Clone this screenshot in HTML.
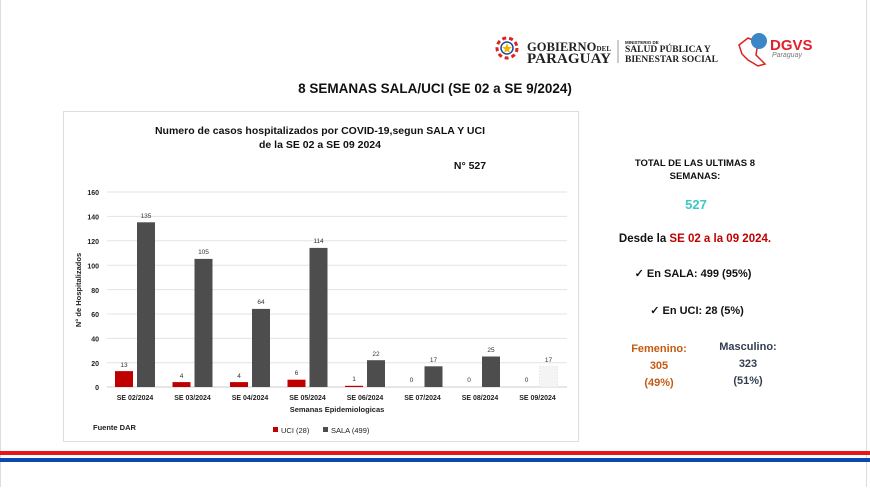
<!DOCTYPE html>
<html><head><meta charset="utf-8"><style>
body{margin:0;width:870px;height:487px;background:#fff;overflow:hidden;font-family:"Liberation Sans",Arial,sans-serif;}
</style></head><body>
<svg width="870" height="487" xmlns="http://www.w3.org/2000/svg" font-family="Liberation Sans, Arial, sans-serif">
<line x1="0.5" y1="0" x2="0.5" y2="487" stroke="#ddd"/>
<line x1="866.5" y1="0" x2="866.5" y2="487" stroke="#ddd"/>
<!-- logos -->
<circle cx="507" cy="48" r="10" fill="none" stroke="#d22" stroke-width="3" stroke-dasharray="4 3"/>
<circle cx="507" cy="48" r="6" fill="#fff" stroke="#1a4ba0" stroke-width="1.5"/>
<polygon points="507,43 508.5,47 512,47 509,49.5 510,53 507,51 504,53 505,49.5 502,47 505.5,47" fill="#f2b500"/>
<text x="527" y="51" font-family="Liberation Serif, serif" font-weight="bold" font-size="12.5" fill="#222" textLength="84">GOBIERNO<tspan font-size="7">DEL</tspan></text>
<text x="527" y="63" font-family="Liberation Serif, serif" font-weight="bold" font-size="15" fill="#222" textLength="84">PARAGUAY</text>
<line x1="618" y1="40" x2="618" y2="63" stroke="#999"/>
<text x="625" y="44" font-size="4.5" font-weight="bold" fill="#222">MINISTERIO DE</text>
<text x="625" y="52" font-family="Liberation Serif, serif" font-size="9.5" font-weight="bold" fill="#222">SALUD PÚBLICA Y</text>
<text x="625" y="62" font-family="Liberation Serif, serif" font-size="9.5" font-weight="bold" fill="#222">BIENESTAR SOCIAL</text>
<path d="M739,45 L748,38 L758,42 L756,55 L765,64 L758,66 L748,60 L742,54 Z" fill="none" stroke="#d22" stroke-width="1.5"/>
<circle cx="759" cy="41" r="8" fill="#3a86c6"/>
<text x="770" y="50" font-size="15" font-weight="bold" fill="#e2212d">DGVS</text>
<text x="772" y="57" font-size="7" font-style="italic" fill="#777">Paraguay</text>
<!-- title -->
<text x="435" y="93" text-anchor="middle" font-size="13.5" font-weight="bold" fill="#111">8 SEMANAS SALA/UCI  (SE 02 a SE 9/2024)</text>
<!-- chart panel -->
<rect x="63.5" y="111.5" width="515" height="330" fill="#fff" stroke="#ddd"/>
<text x="320" y="134" text-anchor="middle" font-size="10.5" font-weight="bold" fill="#111">Numero de casos hospitalizados por COVID-19,segun SALA Y UCI</text>
<text x="320" y="148" text-anchor="middle" font-size="10.5" font-weight="bold" fill="#111">de la SE 02 a SE 09 2024</text>
<text x="470" y="169" text-anchor="middle" font-size="10.5" font-weight="bold" fill="#111">N° 527</text>
<g stroke="#e3e3e3" stroke-width="1">
<line x1="107" y1="192" x2="567" y2="192"/><line x1="107" y1="216.4" x2="567" y2="216.4"/>
<line x1="107" y1="240.8" x2="567" y2="240.8"/><line x1="107" y1="265.2" x2="567" y2="265.2"/>
<line x1="107" y1="289.6" x2="567" y2="289.6"/><line x1="107" y1="314" x2="567" y2="314"/>
<line x1="107" y1="338.4" x2="567" y2="338.4"/><line x1="107" y1="362.8" x2="567" y2="362.8"/>
<line x1="107" y1="387" x2="567" y2="387" stroke="#ccc"/>
</g>
<g font-size="7" font-weight="bold" fill="#222" text-anchor="end">
<text x="99" y="195">160</text><text x="99" y="219.5">140</text><text x="99" y="244">120</text>
<text x="99" y="268.5">100</text><text x="99" y="293">80</text><text x="99" y="317">60</text>
<text x="99" y="341.5">40</text><text x="99" y="366">20</text><text x="99" y="390">0</text>
</g>
<text transform="translate(81,290) rotate(-90)" text-anchor="middle" font-size="7.5" font-weight="bold" fill="#222">N° de Hospitalizados</text>
<g fill="#c00000">
<rect x="115" y="371.1" width="18" height="15.9"/>
<rect x="172.5" y="382.1" width="18" height="4.9"/>
<rect x="230" y="382.1" width="18" height="4.9"/>
<rect x="287.5" y="379.7" width="18" height="7.3"/>
<rect x="345" y="385.8" width="18" height="1.2"/>
</g>
<g fill="#4d4d4d">
<rect x="137" y="222.3" width="18" height="164.7"/>
<rect x="194.5" y="258.9" width="18" height="128.1"/>
<rect x="252" y="308.9" width="18" height="78.1"/>
<rect x="309.5" y="247.9" width="18" height="139.1"/>
<rect x="367" y="360.2" width="18" height="26.8"/>
<rect x="424.5" y="366.3" width="18" height="20.7"/>
<rect x="482" y="356.5" width="18" height="30.5"/>
</g>
<rect x="539.5" y="366.3" width="18" height="20.7" fill="#f4f4f4" stroke="#ddd" stroke-dasharray="1 2"/>
<g font-size="6.5" fill="#333" text-anchor="middle">
<text x="124" y="367">13</text><text x="146" y="218">135</text>
<text x="181.5" y="378">4</text><text x="203.5" y="254">105</text>
<text x="239" y="378">4</text><text x="261" y="304">64</text>
<text x="296.5" y="375">6</text><text x="318.5" y="243">114</text>
<text x="354" y="381">1</text><text x="376" y="356">22</text>
<text x="411.5" y="382">0</text><text x="433.5" y="362">17</text>
<text x="469" y="382">0</text><text x="491" y="352">25</text>
<text x="526.5" y="382">0</text><text x="548.5" y="362">17</text>
</g>
<g font-size="7" font-weight="bold" fill="#222" text-anchor="middle">
<text x="135" y="400">SE 02/2024</text><text x="192.5" y="400">SE 03/2024</text>
<text x="250" y="400">SE 04/2024</text><text x="307.5" y="400">SE 05/2024</text>
<text x="365" y="400">SE 06/2024</text><text x="422.5" y="400">SE 07/2024</text>
<text x="480" y="400">SE 08/2024</text><text x="537.5" y="400">SE 09/2024</text>
</g>
<text x="337" y="412" text-anchor="middle" font-size="7.5" font-weight="bold" fill="#222">Semanas Epidemiologicas</text>
<text x="93" y="430" font-size="7.5" font-weight="bold" fill="#222">Fuente DAR</text>
<rect x="273" y="427" width="5" height="5" fill="#c00000"/>
<text x="281" y="433" font-size="7.5" fill="#222">UCI (28)</text>
<rect x="323" y="427" width="5" height="5" fill="#4d4d4d"/>
<text x="331" y="433" font-size="7.5" fill="#222">SALA (499)</text>
<!-- right text -->
<g font-weight="bold" text-anchor="middle">
<text x="695" y="166" font-size="9.5" fill="#111">TOTAL DE LAS ULTIMAS 8</text>
<text x="695" y="179" font-size="9.5" fill="#111">SEMANAS:</text>
<text x="696" y="209" font-size="13" fill="#3cc8c8">527</text>
<text x="695" y="242" font-size="11.5" fill="#111">Desde la <tspan fill="#c00000">SE 02 a la 09 2024.</tspan></text>
<text x="693" y="277" font-size="11" fill="#111">✓  En SALA: 499 (95%)</text>
<text x="697" y="314" font-size="11" fill="#111">✓  En UCI: 28 (5%)</text>
<text x="659" y="352" font-size="11" fill="#c55a11">Femenino:</text>
<text x="659" y="369" font-size="11" fill="#c55a11">305</text>
<text x="659" y="386" font-size="11" fill="#c55a11">(49%)</text>
<text x="748" y="350" font-size="11" fill="#333f50">Masculino:</text>
<text x="748" y="367" font-size="11" fill="#333f50">323</text>
<text x="748" y="384" font-size="11" fill="#333f50">(51%)</text>
</g>
<!-- stripes -->
<rect x="0" y="451" width="870" height="4" fill="#e8151b"/>
<rect x="0" y="458" width="870" height="4" fill="#0b47b0"/>
</svg>
</body></html>
